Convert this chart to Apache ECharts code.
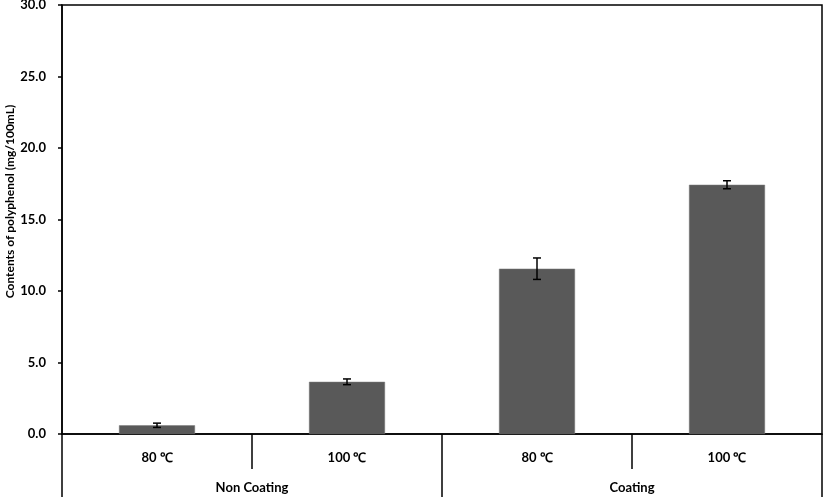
<!DOCTYPE html>
<html>
<head>
<meta charset="utf-8">
<script src="https://cdn.jsdelivr.net/npm/echarts@6/dist/echarts.min.js"></script>
<style>html,body{margin:0;padding:0;background:#fff;}#c{width:827px;height:497px;}</style>
</head>
<body>
<div id="c"></div>
<script>
var categories = ['80 ℃', '100 ℃', '80 ℃', '100 ℃'];
var groups = ['Non Coating', 'Coating'];
var values = [0.61, 3.65, 11.56, 17.43];
var errors = [0.15, 0.2, 0.75, 0.28];
var yTicks = [0, 5, 10, 15, 20, 25, 30];

var font = 'Lato, "Open Sans", sans-serif';
var chart = echarts.init(document.getElementById('c'));
chart.setOption({
  animation: false,
  grid: {left: 62, right: 5, top: 5, bottom: 63, containLabel: false, outerBoundsMode: 'none',
    show: true, borderColor: '#000', borderWidth: 1.5, backgroundColor: 'transparent'},
  xAxis: [{
    type: 'category', data: categories, position: 'bottom',
    axisLine: {lineStyle: {color: '#000', width: 1.5}},
    axisTick: {show: true, interval: 0, length: 35, lineStyle: {color: '#000', width: 1.5}},
    axisLabel: {interval: 0, margin: 17, color: '#000', fontWeight: 'bold', fontSize: 13, fontFamily: font}
  }, {
    type: 'category', data: groups, position: 'bottom',
    axisLine: {show: false},
    axisTick: {show: true, interval: 0, length: 63, lineStyle: {color: '#000', width: 1.5}},
    axisLabel: {interval: 0, margin: 47, color: '#000', fontWeight: 'bold', fontSize: 13, fontFamily: font}
  }],
  yAxis: {
    type: 'value', min: yTicks[0], max: yTicks[yTicks.length - 1], interval: 5,
    name: 'Contents of polyphenol (mg/100mL)', nameLocation: 'middle', nameGap: 46, nameMoveOverlap: false,
    nameTextStyle: {color: '#000', fontWeight: 'bold', fontSize: 12, fontFamily: font, padding: [0, 0, 0, 36]},
    axisLine: {show: true, lineStyle: {color: '#000', width: 1.5}},
    axisTick: {show: true, length: 4, lineStyle: {color: '#000', width: 1.5}},
    splitLine: {show: false},
    axisLabel: {margin: 16, color: '#000', fontWeight: 'bold', fontSize: 13, fontFamily: font,
      formatter: function (v) { return v.toFixed(1); }}
  },
  series: [{
    type: 'bar', data: values, barWidth: '40%', xAxisIndex: 0,
    itemStyle: {color: '#595959', borderColor: '#7a7a7a', borderWidth: 0.5}
  }, {
    type: 'custom', xAxisIndex: 0, z: 5,
    data: values.map(function (v, i) { return [i, v - errors[i], v + errors[i]]; }),
    renderItem: function (params, api) {
      var lo = api.coord([api.value(0), api.value(1)]);
      var hi = api.coord([api.value(0), api.value(2)]);
      var x = lo[0], w = 4;
      var st = {stroke: '#000', lineWidth: 1.5};
      return {type: 'group', children: [
        {type: 'line', shape: {x1: x, y1: lo[1], x2: x, y2: hi[1]}, style: st},
        {type: 'line', shape: {x1: x - w, y1: lo[1], x2: x + w, y2: lo[1]}, style: st},
        {type: 'line', shape: {x1: x - w, y1: hi[1], x2: x + w, y2: hi[1]}, style: st}
      ]};
    }
  }]
});
</script>
</body>
</html>
